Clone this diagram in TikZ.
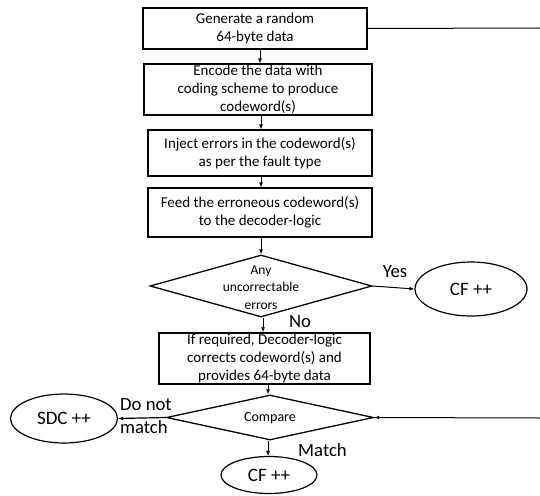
\documentclass[tikz,border=0pt]{standalone}
\usepackage{fontspec}
\setmainfont{Carlito}
\usetikzlibrary{shapes.geometric,arrows.meta}
\tikzset{
  box/.style={draw, line width=1.3pt, align=center, inner sep=0pt, font=\fontsize{15}{18}\selectfont},
  dia/.style={draw, diamond, line width=1.3pt, inner sep=0pt},
  diatext/.style={align=center, inner sep=0pt, font=\fontsize{13.5}{17.5}\selectfont},
  oval/.style={draw, ellipse, line width=1.2pt, inner sep=0pt, font=\fontsize{19}{22}\selectfont},
  lbl/.style={inner sep=0pt, font=\fontsize{18.7}{23}\selectfont},
  arr/.style={-{Latex[length=5pt,width=4pt]}, line width=0.8pt},
  ln/.style={line width=1pt}
}
\begin{document}
\begin{tikzpicture}[x=1pt,y=-1pt]
\useasboundingbox (0,0) rectangle (540,495);
\node[box, minimum width=224pt, minimum height=41pt] (b1) at (255,28.5) {Generate a random\\64-byte data};
\node[box, minimum width=228pt, minimum height=51pt] (b2) at (258,89.5) {Encode the data with\\coding scheme to produce\\codeword(s)};
\node[box, minimum width=224pt, minimum height=46pt] (b3) at (260,153) {Inject errors in the codeword(s)\\as per the fault type};
\node[box, minimum width=224pt, minimum height=49pt] (b4) at (260,212.5) {Feed the erroneous codeword(s)\\to the decoder-logic};
\node[dia, minimum width=222pt, minimum height=62pt] (d1) at (261,286) {};
\node[diatext] (d1t) at (261,287.5) {Any\\uncorrectable\\errors};
\node[oval, minimum width=112pt, minimum height=54pt] (cf1) at (471,289) {CF ++};
\node[box, minimum width=211pt, minimum height=51pt] (b5) at (264.5,358.5) {If required, Decoder-logic\\corrects codeword(s) and\\provides 64-byte data};
\node[dia, minimum width=207pt, minimum height=45pt] (d2) at (270,417.5) {};
\node[diatext, font=\fontsize{14}{17}\selectfont] (d2t) at (270,418) {Compare};
\node[oval, minimum width=107pt, minimum height=49pt] (sdc) at (64,418.5) {SDC ++};
\node[oval, minimum width=96pt, minimum height=37pt] (cf2) at (269,475) {CF ++};
\coordinate (r1) at (540,28);
\coordinate (r2) at (540,418);
\node[lbl] (yes) at (395,272) {Yes};
\node[lbl] (no) at (300,322) {No};
\node[lbl, anchor=west, align=left] (dnm) at (120,416.5) {Do not\\match};
\node[lbl] (match) at (322.5,450) {Match};
\draw[arr] (b1.south -| 260,0) -- (b2.north -| 260,0);
\draw[arr] (b2.south -| 261,0) -- (b3.north -| 261,0);
\draw[arr] (b3.south -| 261,0) -- (b4.north -| 261,0);
\draw[arr] (b4.south -| d1.north) -- (d1.north);
\draw[arr, line width=1pt] (d1.east) -- (cf1.west);
\draw[arr] (d1.south -| 263,0) -- (b5.north -| 263,0);
\draw[arr] (b5.south -| 268,0) -- (d2.north -| 268,0);
\draw[arr, line width=1.2pt] (d2.west) -- (sdc.east);
\draw[arr] (d2.south -| 268,0) -- (cf2.north -| 268,0);
\draw[ln] (b1.east) -- (r1);
\draw[arr, line width=1pt] (r2) -- (d2.east);
\end{tikzpicture}
\end{document}
